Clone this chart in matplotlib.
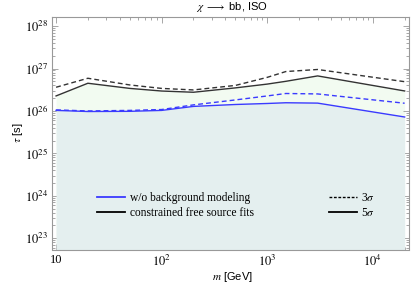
import matplotlib
matplotlib.use("Agg")
import matplotlib.pyplot as plt
from matplotlib.lines import Line2D
from matplotlib.ticker import LogLocator, FixedLocator, NullFormatter
import numpy as np

# ---- data ----
mass = [10, 20, 50, 100, 200, 500, 1000, 1500, 3000, 20000]
black_3sigma = [3.62e26, 5.9e26, 4.1e26, 3.4e26, 3.13e26, 4.0e26, 6.2e26, 8.5e26, 9.5e26, 4.9e26]
black_5sigma = [2.26e26, 4.5e26, 3.4e26, 2.95e26, 2.76e26, 3.5e26, 4.3e26, 5.0e26, 6.7e26, 2.96e26]
blue_3sigma = [1.06e26, 1.0e26, 1.03e26, 1.08e26, 1.39e26, 1.82e26, 2.26e26, 2.58e26, 2.52e26, 1.52e26]
blue_5sigma = [1.03e26, 0.97e26, 0.98e26, 1.03e26, 1.28e26, 1.42e26, 1.5e26, 1.56e26, 1.53e26, 7.2e25]

title = r"$\chi\ \longrightarrow$ bb, ISO"
xlabel = "[GeV]"
ylabel = r"$\tau$ [s]"
legend_labels = ["w/o background modeling", "constrained free source fits"]
sigma_labels = [r"3$\sigma$", r"5$\sigma$"]

plt.rcParams['mathtext.fontset'] = 'stix'
plt.rcParams['font.family'] = ['Liberation Serif', 'DejaVu Serif']

fig = plt.figure(figsize=(4.15, 2.85), dpi=100)
ax = fig.add_axes([52/415, 1-249.5/285, (409-52)/415, (249.5-16.7)/285])

ax.set_xscale('log')
ax.set_yscale('log')
ymin = 5.4e22
ax.set_xlim(9.15, 2.2e4)
ax.set_ylim(ymin, 1.67e28)

blue = '#3a3aff'
dark = '#333333'
ax.fill_between(mass, ymin, black_5sigma, color='#f2fbf1', lw=0, zorder=1)
ax.fill_between(mass, ymin, blue_5sigma, color='#e4efef', lw=0, zorder=2)

ax.plot(mass, black_3sigma, color=dark, lw=1.0, ls=(0, (3.5, 2.2)), zorder=4)
ax.plot(mass, black_5sigma, color=dark, lw=1.0, zorder=4)
ax.plot(mass, blue_3sigma, color=blue, lw=1.0, ls=(0, (3.5, 2.2)), zorder=4)
ax.plot(mass, blue_5sigma, color=blue, lw=1.0, zorder=4)

# ticks
for s in ax.spines.values():
    s.set_color('#999999')
    s.set_linewidth(0.8)
ax.tick_params(which='both', direction='in', top=True, right=True, color='#999999', width=0.6)
ax.tick_params(which='major', length=4, labelsize=9, pad=3)
ax.tick_params(which='minor', length=2)
ax.xaxis.set_major_locator(FixedLocator([10, 100, 1000, 10000]))
ax.set_xticklabels(["10", r"$10^2$", r"$10^3$", r"$10^4$"])
ax.xaxis.set_minor_locator(LogLocator(base=10, subs=np.arange(2, 10), numticks=20))
ax.xaxis.set_minor_formatter(NullFormatter())
yt = [1e23, 1e24, 1e25, 1e26, 1e27, 1e28]
ax.yaxis.set_major_locator(FixedLocator(yt))
ax.set_yticklabels([r"$10^{%d}$" % e for e in range(23, 29)])
ax.yaxis.set_minor_locator(LogLocator(base=10, subs=np.arange(2, 10), numticks=20))
ax.yaxis.set_minor_formatter(NullFormatter())

# labels
sans = ['Liberation Sans', 'DejaVu Sans']
fig.text(232/415, 1-7/285, title, ha='center', va='center', fontsize=8, family=sans)
fig.text(232/415, 1-276.5/285, r"$m$ " + xlabel, ha='center', va='center', fontsize=8, family=sans)
fig.text(18/415, 1-133/285, ylabel, ha='center', va='center', rotation=90, fontsize=8, family=sans)

# legends
h1 = [Line2D([], [], color=blue, lw=1.3), Line2D([], [], color='black', lw=1.3)]
leg1 = ax.legend(h1, legend_labels, loc='center left',
                 bbox_to_anchor=((97-52)/357, (249.5-205.5)/232.8),
                 frameon=False, fontsize=8.3, handlelength=2.4, handletextpad=0.45,
                 labelspacing=0.25, borderpad=0, borderaxespad=0)
ax.add_artist(leg1)
h2 = [Line2D([], [], color='black', lw=1.0, ls=(0, (2, 1.2))), Line2D([], [], color='black', lw=1.3)]
ax.legend(h2, sigma_labels, loc='center left',
          bbox_to_anchor=((329-52)/357, (249.5-205.5)/232.8),
          frameon=False, fontsize=8.3, handlelength=2.4, handletextpad=0.4,
          labelspacing=0.25, borderpad=0, borderaxespad=0)

fig.savefig('out.png', dpi=100)
